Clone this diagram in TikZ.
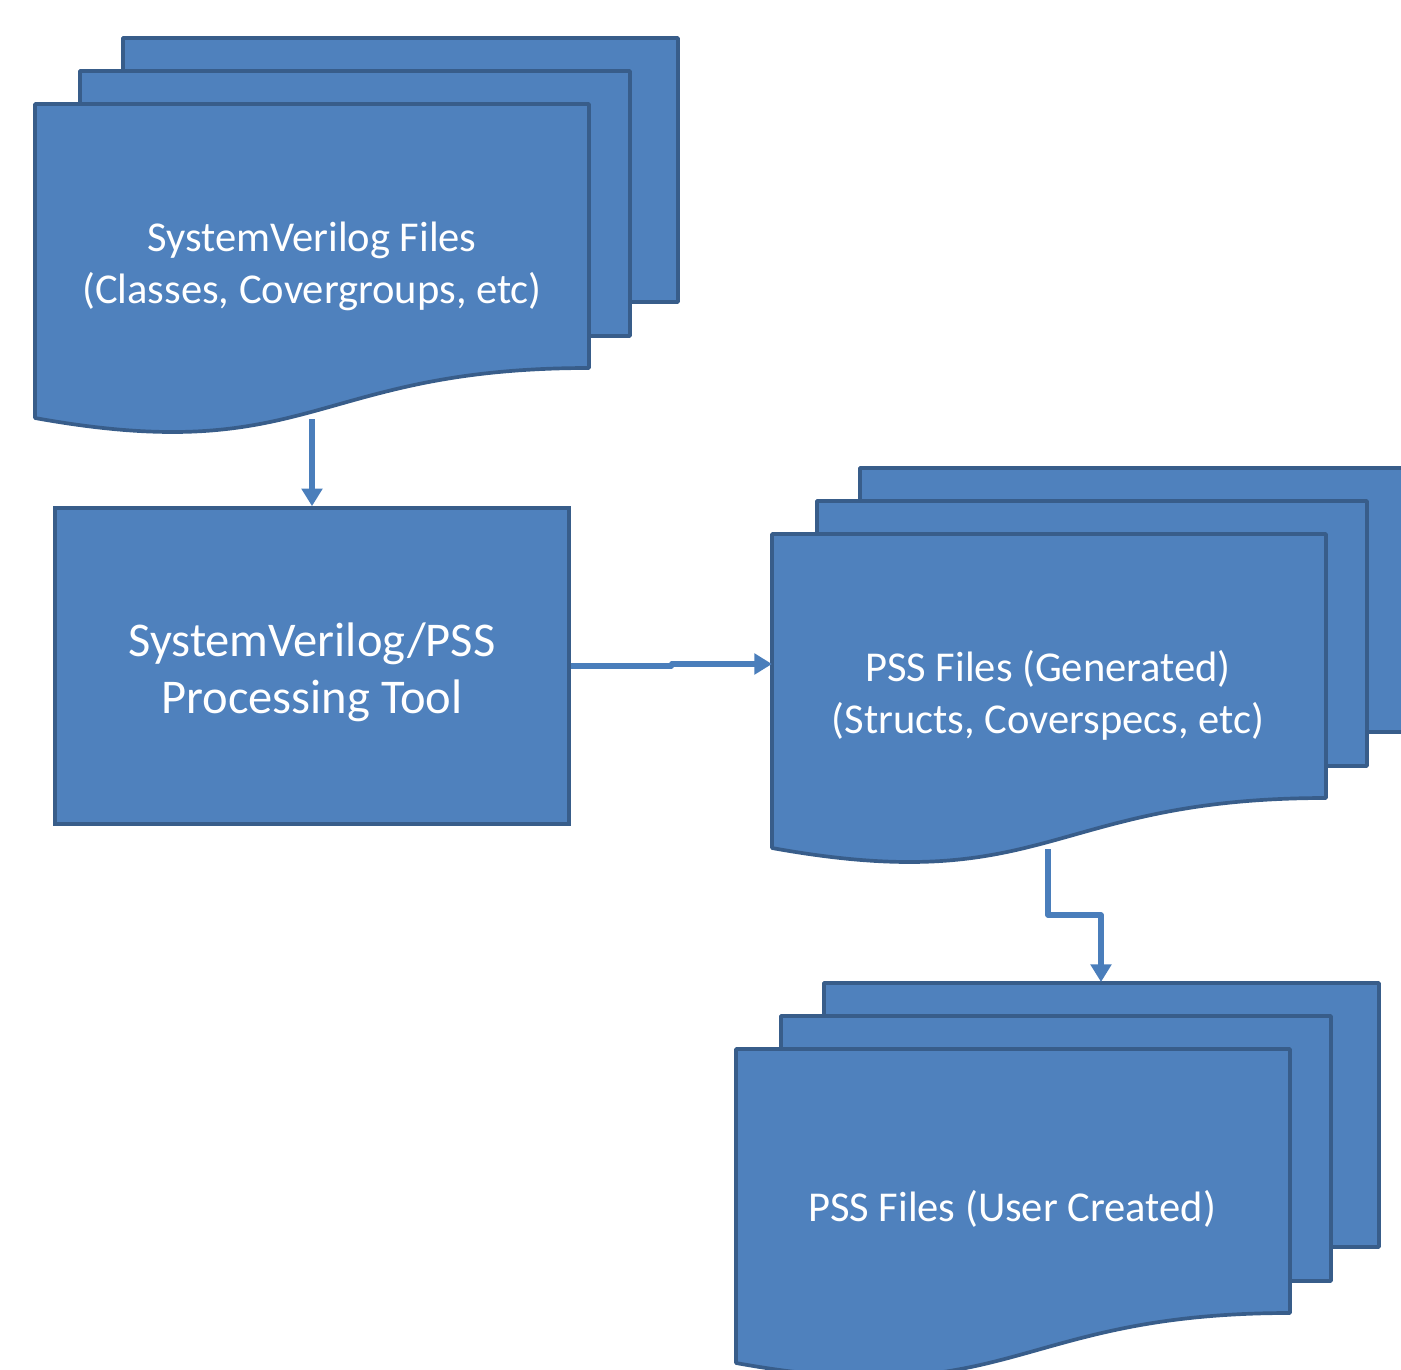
\documentclass[tikz,border=0pt]{standalone}
\usepackage{fontspec}
\setmainfont{Carlito}
\usetikzlibrary{arrows.meta}
\definecolor{docfill}{HTML}{4F81BD}
\definecolor{docline}{HTML}{385D8A}
\definecolor{arrowcol}{HTML}{4A7EBB}
\tikzset{
  page/.style={fill=docfill, draw=docline, line width=2.1pt, line join=round},
  doctext/.style={text=white, align=center, inner sep=0pt, font=\fontsize{24.2pt}{29.5pt}\selectfont},
  procbox/.style={fill=docfill, draw=docline, line width=2.1pt, text=white, align=center,
    minimum width=10.28cm, minimum height=6.32cm, inner sep=0pt,
    font=\fontsize{27.6pt}{32.3pt}\selectfont},
  conn/.style={draw=arrowcol, line width=2.9pt, line join=round,
    -{Triangle[length=10pt,width=11.5pt]}},
}
\newcommand\pagestack{%
  \path[page] (123,38) rectangle (678,302);
  \path[page] (80,71) rectangle (630,336);
  \path[page] (35,104) -- (589,104) -- (589,368)
     .. controls (312,368) and (312,468) .. (35,418) -- cycle;
}
\begin{document}
\begin{tikzpicture}[x=0.02cm, y=-0.02cm]
  \useasboundingbox (0,0) rectangle (1401,1370);
  \clip (0,0) rectangle (1401,1370);

  % stack 1: SystemVerilog files
  \begin{scope}
    \pagestack
  \end{scope}
  \node[doctext] (svfiles) at (312,266) {SystemVerilog Files\\(Classes, Covergroups, etc)};
  \coordinate (svout) at (312,419);

  % processing tool
  \node[procbox] (proc) at (312,666) {};
  \node[text=white, align=center, inner sep=0pt, font=\fontsize{27.6pt}{32.3pt}\selectfont]
     (proctext) at (312,672) {SystemVerilog/PSS\\Processing Tool};

  % stack 2: PSS generated
  \begin{scope}[shift={(737,430)}]
    \pagestack
  \end{scope}
  \node[doctext] (pssgen) at (1048,695) {PSS Files (Generated)\\(Structs, Coverspecs, etc)};
  \coordinate (genin) at (772,664);
  \coordinate (genout) at (1048,849);

  % stack 3: PSS user created
  \begin{scope}[shift={(701,945)}]
    \pagestack
  \end{scope}
  \node[doctext] (pssuser) at (1012,1209) {PSS Files (User Created)};
  \coordinate (usrin) at (1101,982);

  % connectors
  \draw[conn] (svout) -- (proc.north);
  \draw[conn] (proc.east) -- ++(101,0) |- (genin);
  \draw[conn] (genout) -- ++(0,66) -| (usrin);
\end{tikzpicture}
\end{document}
